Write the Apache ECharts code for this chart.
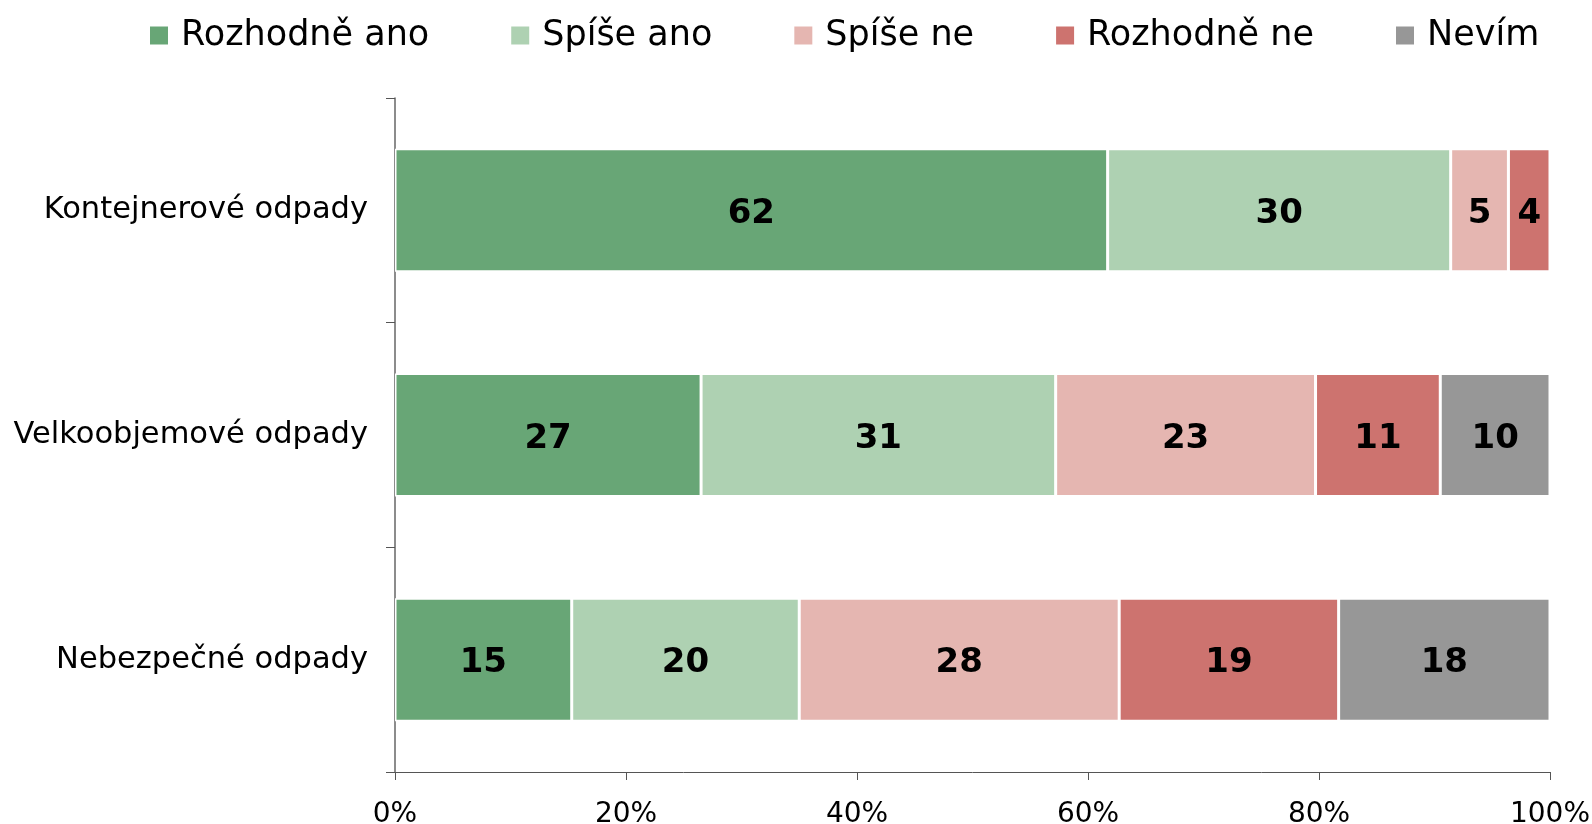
<!DOCTYPE html>
<html>
<head>
<meta charset="utf-8">
<script src="https://cdn.jsdelivr.net/npm/echarts@6/dist/echarts.min.js"></script>
<style>
  html, body { margin: 0; padding: 0; background: #fff; }
  #container { width: 1592px; height: 824px; }
</style>
</head>
<body>
<div id="container"></div>
<script>
var categories = ['Kontejnerové odpady', 'Velkoobjemové odpady', 'Nebezpečné odpady'];
var seriesNames = ['Rozhodně ano', 'Spíše ano', 'Spíše ne', 'Rozhodně ne', 'Nevím'];
var rozhodneAno = [61.7, 26.5, 15.3];
var spiseAno = [29.7, 30.7, 19.7];
var spiseNe = [5.0, 22.5, 27.7];
var rozhodneNe = [3.6, 10.8, 19.0];
var nevim = [0, 9.5, 18.3];
var xTicks = [0, 20, 40, 60, 80, 100];
var colors = ['#68A676', '#AED1B2', '#E5B6B1', '#CD736F', '#979797'];

var dom = document.getElementById('container');
var myChart = echarts.init(dom);

var allData = [rozhodneAno, spiseAno, spiseNe, rozhodneNe, nevim];
var series = [];
for (var i = 0; i < seriesNames.length; i++) {
    series.push({
        name: seriesNames[i],
        type: 'bar',
        stack: 'total',
        barWidth: 123,
        data: allData[i],
        itemStyle: { color: colors[i], borderColor: '#fff', borderWidth: 1.5 },
        label: {
            show: true,
            position: 'inside',
            color: '#000',
            fontFamily: 'DejaVu Sans',
            fontWeight: 'bold',
            fontSize: 34,
            offset: [0, 4],
            formatter: function (p) {
                return p.value > 0 ? Math.round(p.value) : '';
            }
        }
    });
}

var option = {
    backgroundColor: '#FFFFFF',
    animation: false,
    color: colors,
    legend: {
        data: seriesNames,
        left: 143,
        top: 13,
        itemWidth: 20,
        itemHeight: 20,
        itemGap: 80,
        icon: 'rect',
        textStyle: {
            fontFamily: 'DejaVu Sans',
            fontSize: 35,
            color: '#000',
            padding: [0, 0, 0, 7]
        }
    },
    grid: { left: 395, right: 42, top: 98, bottom: 52, containLabel: false, outerBoundsMode: 'none' },
    xAxis: {
        type: 'value',
        min: 0,
        max: 100,
        interval: 20,
        axisLine: { show: true, lineStyle: { color: '#555', width: 1 } },
        axisTick: { show: true, length: 8, lineStyle: { color: '#555' } },
        splitLine: { show: false },
        axisLabel: {
            margin: 29,
            fontFamily: 'DejaVu Sans',
            fontSize: 28,
            color: '#000',
            formatter: function (v) { return xTicks.indexOf(v) >= 0 ? v + '%' : ''; }
        }
    },
    yAxis: {
        type: 'category',
        inverse: true,
        data: categories,
        axisLine: { show: true, lineStyle: { color: '#666', width: 1.5 } },
        axisTick: { show: true, length: 9, alignWithLabel: false, lineStyle: { color: '#555' } },
        axisLabel: {
            margin: 27,
            padding: [6, 0, 0, 0],
            fontFamily: 'DejaVu Sans',
            fontSize: 30.5,
            color: '#000'
        }
    },
    series: series
};

myChart.setOption(option);
window.onresize = function () {
    myChart.resize();
};
</script>
</body>
</html>
